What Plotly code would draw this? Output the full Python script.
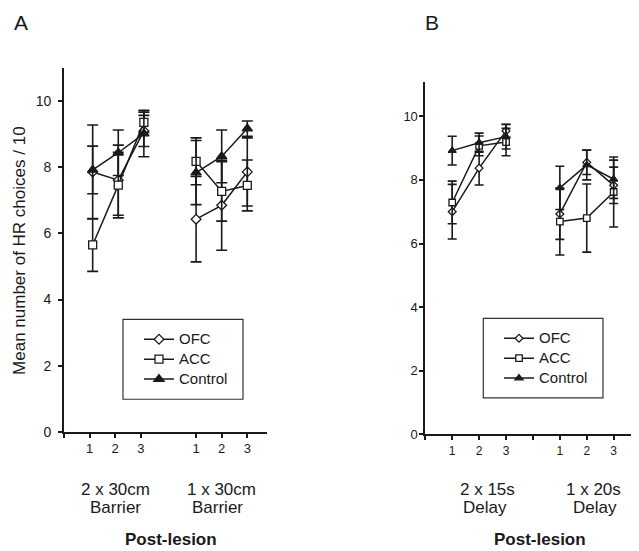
import plotly.graph_objects as go

W, H = 639, 551

series = ["OFC", "ACC", "Control"]

# ---- Panel A data ----
a_tick_pos = [0, 1, 2, 3, 5.16, 6.16, 7.16]
a_tick_text = ["", "1", "2", "3", "1", "2", "3"]
a_x = [1.12, 2.12, 3.12, None, 5.16, 6.16, 7.16]
a_ofc = [7.86, 7.61, 9.10, None, 6.43, 6.85, 7.86]
a_ofc_err = [1.42, 1.06, 0.47, None, 1.29, 1.36, 1.03]
a_acc = [5.65, 7.46, 9.36, None, 8.18, 7.27, 7.45]
a_acc_err = [0.80, 0.99, 0.31, None, 0.71, 0.90, 0.77]
a_ctl = [7.92, 8.44, 9.02, None, 7.84, 8.33, 9.17]
a_ctl_err = [0.72, 0.69, 0.70, None, 0.97, 0.80, 0.23]

# ---- Panel B data ----
b_tick_pos = [0, 1, 2, 3, 4, 5, 6, 7]
b_tick_text = ["", "1", "2", "3", "", "1", "2", "3"]
b_x = [1, 2, 3, None, 5, 6, 7]
b_ofc = [7.00, 8.37, 9.54, None, 6.93, 8.55, 7.83]
b_ofc_err = [0.86, 0.53, 0.20, None, 0.80, 0.38, 0.57]
b_acc = [7.29, 9.07, 9.19, None, 6.69, 6.80, 7.62]
b_acc_err = [0.67, 0.31, 0.43, None, 1.05, 1.07, 1.10]
b_ctl = [8.92, 9.17, 9.36, None, 7.75, 8.47, 8.02]
b_ctl_err = [0.45, 0.30, 0.39, None, 0.68, 0.47, 0.60]

y_ticks = [0, 2, 4, 6, 8, 10]

INK = "#1a1a1a"
FONT = "Liberation Sans, Arial, sans-serif"
NARROW = "Liberation Sans Narrow, Arial Narrow, Liberation Sans, sans-serif"

styles = {
    "OFC": dict(symbol="diamond", color="white"),
    "ACC": dict(symbol="square", color="white"),
    "Control": dict(symbol="triangle-up", color=INK),
}
sizesA = {"OFC": 7.5, "ACC": 8, "Control": 9}
sizesB = {"OFC": 6, "ACC": 6.5, "Control": 7}

fig = go.Figure()

def add(xs, ys, errs, name, xa, ya, legend, sizes, capw):
    st = styles[name]
    fig.add_trace(go.Scatter(
        x=xs, y=ys, name=f"<span style='font-size:15px'>{name}</span>",
        mode="lines+markers",
        xaxis=xa, yaxis=ya, legend=legend,
        line=dict(color=INK, width=1.5),
        marker=dict(symbol=st["symbol"], color=st["color"], size=sizes[name],
                    line=dict(color=INK, width=1.3)),
        error_y=dict(type="data", array=errs, visible=True, color=INK,
                     thickness=1.6, width=capw),
    ))

add(a_x, a_ofc, a_ofc_err, "OFC", "x", "y", "legend", sizesA, 5.5)
add(a_x, a_acc, a_acc_err, "ACC", "x", "y", "legend", sizesA, 5.5)
add(a_x, a_ctl, a_ctl_err, "Control", "x", "y", "legend", sizesA, 5.5)
add(b_x, b_ofc, b_ofc_err, "OFC", "x2", "y2", "legend2", sizesB, 4.5)
add(b_x, b_acc, b_acc_err, "ACC", "x2", "y2", "legend2", sizesB, 4.5)
add(b_x, b_ctl, b_ctl_err, "Control", "x2", "y2", "legend2", sizesB, 4.5)

def px_x(p):
    return p / W

def px_y(p):
    return 1 - p / H

axis_common = dict(showline=True, linecolor=INK, linewidth=1.7, ticks="outside",
                   tickcolor=INK, tickwidth=1.5, ticklen=4, showgrid=False,
                   zeroline=False)

leg_common = dict(xanchor="left", yanchor="top", borderwidth=0,
                  bgcolor="rgba(0,0,0,0)", font=dict(size=13), indentation=0)

fig.update_layout(
    width=W, height=H,
    margin=dict(l=0, r=0, t=0, b=0),
    paper_bgcolor="white", plot_bgcolor="white",
    font=dict(family=FONT, color=INK),
    xaxis=dict(domain=[px_x(56), px_x(259)], range=[0, 7.93], anchor="y",
               tickvals=a_tick_pos, ticktext=a_tick_text,
               tickfont=dict(size=13), ticklabelstandoff=0, **axis_common),
    yaxis=dict(domain=[px_y(430), px_y(61)], range=[0, 11], anchor="x",
               tickvals=y_ticks, tickfont=dict(size=14), ticklabelstandoff=4,
               **axis_common),
    xaxis2=dict(domain=[px_x(417.3), px_x(628)], range=[0, 7.83], anchor="y2",
                tickvals=b_tick_pos, ticktext=b_tick_text,
                tickfont=dict(size=12), ticklabelstandoff=0, **axis_common),
    yaxis2=dict(domain=[px_y(432.7), px_y(75)], range=[0, 11.08], anchor="x2",
                tickvals=y_ticks, tickfont=dict(size=13, family=NARROW),
                ticklabelstandoff=-1, **axis_common),
    legend=dict(x=px_x(131), y=px_y(321), **leg_common),
    legend2=dict(x=px_x(491), y=px_y(320), **leg_common),
)

# legend frames
for (x0, y0, x1, y1) in [(115, 316, 235, 397), (475.3, 315, 595, 395.7)]:
    fig.add_shape(type="rect", xref="paper", yref="paper",
                  x0=px_x(x0), x1=px_x(x1), y0=px_y(y1), y1=px_y(y0),
                  line=dict(color="#333", width=1.2), fillcolor="white",
                  layer="below")

def label(text, cx, cy, size=17, bold=False, angle=0):
    fig.add_annotation(
        text=f"<b>{text}</b>" if bold else text,
        x=px_x(cx), y=px_y(cy), xref="paper", yref="paper",
        xanchor="center", yanchor="middle", showarrow=False,
        textangle=angle, font=dict(size=size, family=FONT, color=INK),
    )

label("A", 12.5, 15, size=21)
label("B", 424, 15, size=21)
label("Mean number of HR choices / 10", 11.5, 246, size=17, angle=-90)

label("2 x 30cm", 107.3, 488.3)
label("Barrier", 107.1, 507.3)
label("1 x 30cm", 213.7, 488.3)
label("Barrier", 209, 507.3)
label("Post-lesion", 163.3, 539.3, bold=True)

label("2 x 15s", 479.6, 488.3)
label("Delay", 477, 507.3)
label("1 x 20s", 585, 488.3)
label("Delay", 587, 507.3)
label("Post-lesion", 531.6, 539.3, bold=True)

fig.write_html("out.html")
